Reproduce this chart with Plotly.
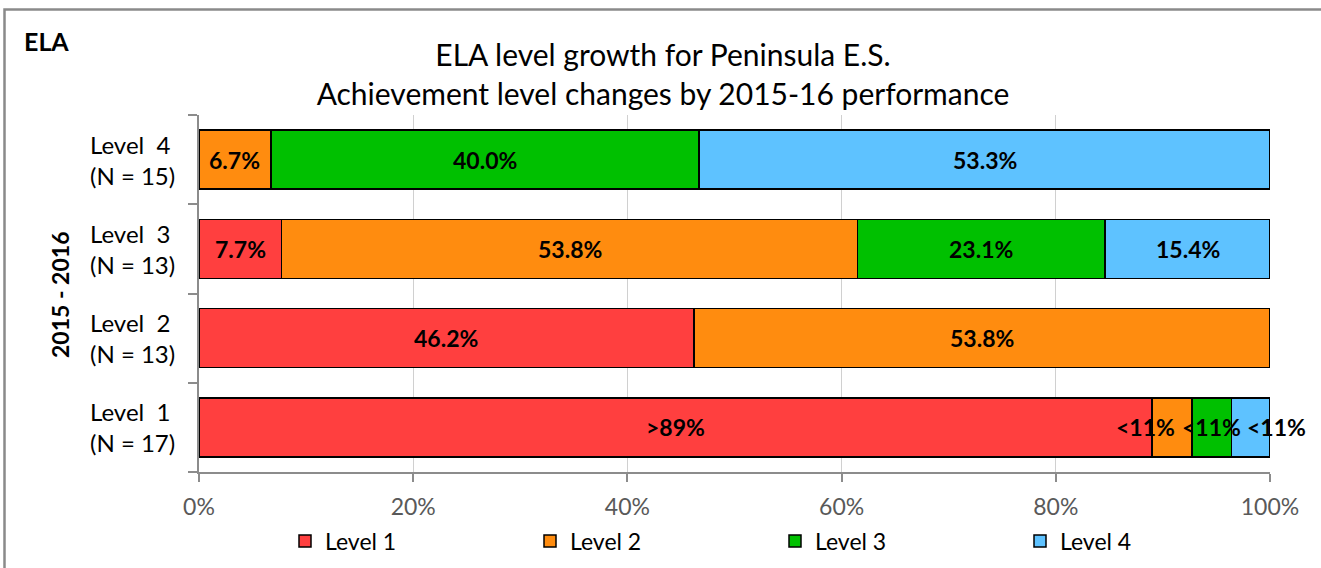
import plotly.graph_objects as go

categories = ["Level  1<br>(N = 17)", "Level  2<br>(N = 13)", "Level  3<br>(N = 13)", "Level  4<br>(N = 15)"]
series_names = ["Level 1", "Level 2", "Level 3", "Level 4"]
level1 = [89.0, 46.2, 7.7, None]
level2 = [3.7, 53.8, 53.8, 6.7]
level3 = [3.7, None, 23.1, 40.0]
level4 = [3.6, None, 15.4, 53.3]
labels1 = [">89%", "46.2%", "7.7%", ""]
labels2 = ["<11%", "53.8%", "53.8%", "6.7%"]
labels3 = ["<11%", "", "23.1%", "40.0%"]
labels4 = ["<11%", "", "15.4%", "53.3%"]
colors = ["#FF3F3F", "#FF8C0F", "#00C000", "#5EC2FF"]
x_ticks = [0, 20, 40, 60, 80, 100]
x_tick_text = ["0%", "20%", "40%", "60%", "80%", "100%"]

# style: pixel nudges of crowded labels in the first row (series index -> shift)
crowded_shift = {1: -27, 2: 0, 3: 26}

FONT = "Lato"
W, H = 1321, 568
L, R, T, B = 199, 51, 115, 96
pw, ph = W - L - R, H - T - B


def px2x(px):
    return (px - L) / pw


def py2y(py):
    return (H - B - py) / ph


all_vals = [level1, level2, level3, level4]
all_labels = [labels1, labels2, labels3, labels4]

fig = go.Figure()
for name, vals, col in zip(series_names, all_vals, colors):
    fig.add_trace(go.Bar(
        y=categories, x=vals, name=name, orientation="h",
        marker=dict(color=col, line=dict(color="#000000", width=1.5)),
        hoverinfo="skip",
    ))

# data labels drawn on top of all bars, centred on each segment
for ci, cat in enumerate(categories):
    start = 0.0
    for si in range(len(series_names)):
        v = all_vals[si][ci]
        if v is None:
            continue
        lab = all_labels[si][ci]
        if lab:
            shift = crowded_shift.get(si, 0) if lab.startswith("<") else 0
            fig.add_annotation(
                text="<b>" + lab + "</b>", x=start + v / 2, y=cat,
                xref="x", yref="y", showarrow=False, xshift=shift,
                xanchor="center", yanchor="middle",
                font=dict(family=FONT, size=23, color="#000000"),
            )
        start += v

fig.update_layout(
    width=W, height=H,
    margin=dict(l=L, r=R, t=T, b=B, autoexpand=False),
    barmode="stack", bargap=0.34,
    plot_bgcolor="white", paper_bgcolor="white",
    font=dict(family=FONT, color="#000000"),
    title=dict(
        text="ELA level growth for Peninsula E.S.<br>Achievement level changes by 2015-16 performance",
        x=663 / W, xref="container", xanchor="center",
        y=1 - 66 / H, yref="container", yanchor="middle",
        font=dict(family=FONT, size=30, color="#000000"),
    ),
    xaxis=dict(
        range=[0, 100], tickvals=x_ticks, ticktext=x_tick_text,
        showgrid=True, gridcolor="#D0D0D0", gridwidth=1.3,
        showline=True, linecolor="#8C8C8C", linewidth=2,
        ticks="outside", ticklen=8, tickcolor="#8C8C8C", tickwidth=1.5,
        tickfont=dict(family=FONT, size=23, color="#595959"),
        ticklabelstandoff=5, zeroline=False, fixedrange=True,
    ),
    yaxis=dict(
        type="category", categoryorder="array", categoryarray=categories,
        showline=True, linecolor="#8C8C8C", linewidth=2,
        ticks="outside", ticklen=9, tickcolor="#8C8C8C", tickwidth=1.5,
        tickson="boundaries", showgrid=False, showticklabels=False,
        fixedrange=True,
    ),
    legend=dict(
        orientation="h", xref="container", yref="container",
        x=285 / W, xanchor="left", y=1 - 541 / H, yanchor="middle",
        traceorder="normal", entrywidth=200, bgcolor="rgba(0,0,0,0)",
        font=dict(family=FONT, size=23, color="#000000"),
        itemclick=False, itemdoubleclick=False,
    ),
    showlegend=True,
)

for cat in categories:
    fig.add_annotation(
        text=cat, xref="paper", yref="y", x=px2x(88), y=cat,
        xanchor="left", yanchor="middle", align="left", showarrow=False,
        font=dict(family=FONT, size=24, color="#000000"),
    )

fig.add_annotation(
    text="<b>ELA</b>", xref="paper", yref="paper",
    x=px2x(22), y=py2y(41), xanchor="left", yanchor="middle",
    showarrow=False, font=dict(family=FONT, size=25, color="#000000"),
)
fig.add_annotation(
    text="<b>2015 - 2016</b>", xref="paper", yref="paper",
    x=px2x(60), y=py2y(295), xanchor="center", yanchor="middle",
    textangle=-90, showarrow=False,
    font=dict(family=FONT, size=23, color="#000000"),
)
fig.add_shape(
    type="rect", xref="paper", yref="paper",
    x0=px2x(4.5), x1=px2x(W + 20), y0=py2y(H + 20), y1=py2y(9.5),
    line=dict(color="#8A8A8A", width=2.5), fillcolor="rgba(0,0,0,0)", layer="below",
)

fig.write_html("out.html", config={"displayModeBar": False},
               post_script="document.body.style.margin='0';")
